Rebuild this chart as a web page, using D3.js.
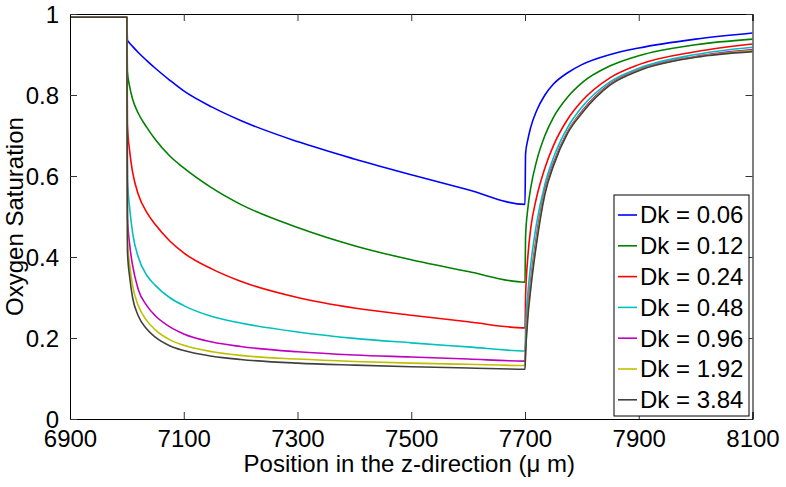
<!DOCTYPE html>
<html>
<head>
<meta charset="utf-8">
<script src="https://cdn.jsdelivr.net/npm/d3@7"></script>
<style>
  html, body { margin: 0; padding: 0; background: #fff; }
  svg { display: block; font-family: "Liberation Sans", Arial, Helvetica, sans-serif; }
</style>
</head>
<body>
<svg id="chart" width="786" height="487"></svg>
<script>
// ---- data ----
const positions = [6900, 7000, 7001, 7005, 7010, 7020, 7035, 7050, 7075, 7100, 7150, 7200, 7300, 7400, 7500, 7600, 7700,
                   7701, 7705, 7710, 7720, 7735, 7750, 7775, 7800, 7850, 7900, 8000, 8100];
const seriesLabels = ["Dk = 0.06", "Dk = 0.12", "Dk = 0.24", "Dk = 0.48", "Dk = 0.96", "Dk = 1.92", "Dk = 3.84"];
const seriesColors = ["#0000ff", "#008000", "#ff0000", "#00bfbf", "#bf00bf", "#bfbf00", "#404040"];
const dk006 = [0.992, 0.992, 0.935, 0.928, 0.92, 0.905, 0.885, 0.866, 0.837, 0.81, 0.77, 0.737, 0.685, 0.642, 0.603, 0.566, 0.53,
               0.655, 0.69, 0.72, 0.76, 0.80, 0.827, 0.855, 0.875, 0.90, 0.916, 0.938, 0.953];
const dk012 = [0.992, 0.992, 0.857, 0.82, 0.79, 0.755, 0.72, 0.69, 0.65, 0.62, 0.57, 0.53, 0.473, 0.428, 0.393, 0.364, 0.338,
               0.45, 0.52, 0.57, 0.635, 0.70, 0.745, 0.795, 0.83, 0.872, 0.897, 0.924, 0.938];
const dk024 = [0.992, 0.992, 0.728, 0.66, 0.61, 0.555, 0.51, 0.48, 0.44, 0.41, 0.37, 0.34, 0.30, 0.274, 0.256, 0.24, 0.225,
               0.30, 0.40, 0.47, 0.545, 0.62, 0.675, 0.74, 0.785, 0.843, 0.875, 0.907, 0.926];
const dk048 = [0.992, 0.992, 0.595, 0.52, 0.46, 0.40, 0.355, 0.33, 0.30, 0.28, 0.253, 0.237, 0.215, 0.199, 0.188, 0.178, 0.168,
               0.22, 0.31, 0.38, 0.48, 0.58, 0.645, 0.72, 0.77, 0.833, 0.866, 0.90, 0.918];
const dk096 = [0.992, 0.992, 0.50, 0.43, 0.38, 0.32, 0.28, 0.255, 0.228, 0.21, 0.19, 0.179, 0.166, 0.158, 0.153, 0.148, 0.143,
               0.18, 0.27, 0.34, 0.45, 0.565, 0.632, 0.71, 0.76, 0.828, 0.862, 0.895, 0.912];
const dk192 = [0.992, 0.992, 0.444, 0.38, 0.33, 0.28, 0.243, 0.22, 0.196, 0.182, 0.166, 0.157, 0.148, 0.142, 0.138, 0.135, 0.132,
               0.17, 0.26, 0.33, 0.44, 0.56, 0.628, 0.708, 0.757, 0.826, 0.861, 0.894, 0.91];
const dk384 = [0.992, 0.992, 0.413, 0.35, 0.30, 0.255, 0.222, 0.202, 0.181, 0.169, 0.155, 0.147, 0.138, 0.133, 0.129, 0.126, 0.123,
               0.16, 0.25, 0.32, 0.43, 0.555, 0.625, 0.706, 0.755, 0.825, 0.86, 0.893, 0.907];
const seriesValues = [dk006, dk012, dk024, dk048, dk096, dk192, dk384];
const xTicks = [6900, 7100, 7300, 7500, 7700, 7900, 8100];
const yTicks = [0, 0.2, 0.4, 0.6, 0.8, 1];
const xTitle = "Position in the z-direction (\u03bc m)";
const yTitle = "Oxygen Saturation";

// ---- layout ----
const svg = d3.select("#chart");
const L = 70, R = 752.5, T = 14, B = 419;
const x = d3.scaleLinear().domain([6900, 8100]).range([L, R]);
const y = d3.scaleLinear().domain([0, 1]).range([B, T]);
const fs = 24;

svg.append("defs").append("clipPath").attr("id", "clip")
  .append("rect").attr("x", L).attr("y", T).attr("width", R - L).attr("height", B - T);

// lines
const line = d3.line().x(d => x(d[0])).y(d => y(d[1])).curve(d3.curveMonotoneX);
const g = svg.append("g").attr("clip-path", "url(#clip)");
seriesValues.forEach((vals, i) => {
  const pts = positions.map((p, j) => [p, vals[j]]);
  g.append("path").datum(pts).attr("d", line)
    .attr("fill", "none").attr("stroke", seriesColors[i]).attr("stroke-width", 1.6)
    .attr("stroke-linejoin", "round");
});

// axes (ticks inside, mirrored)
const tickLen = 7;
const axB = svg.append("g").attr("transform", `translate(0,${B})`)
  .call(d3.axisBottom(x).tickValues(xTicks).tickSize(-tickLen).tickPadding(tickLen + 4).tickFormat(d3.format("d")));
const axT = svg.append("g").attr("transform", `translate(0,${T})`)
  .call(d3.axisTop(x).tickValues(xTicks).tickSize(-tickLen).tickFormat(""));
const axL = svg.append("g").attr("transform", `translate(${L},0)`)
  .call(d3.axisLeft(y).tickValues(yTicks).tickSize(-tickLen).tickPadding(tickLen + 4).tickFormat(d => d3.format("")(d)));
const axR = svg.append("g").attr("transform", `translate(${R},0)`)
  .call(d3.axisRight(y).tickValues(yTicks).tickSize(-tickLen).tickFormat(""));
[axB, axT, axL, axR].forEach(a => {
  a.select(".domain").attr("stroke", "#000").attr("stroke-width", 1);
  a.selectAll(".tick line").attr("stroke", "#333").attr("stroke-width", 1);
  a.selectAll("text").attr("font-size", fs).attr("fill", "#000")
    .attr("font-family", "'Liberation Sans', Arial, Helvetica, sans-serif");
});
axB.selectAll(".tick text").attr("dy", "0.72em");
axL.selectAll(".tick text").attr("dy", "0.35em");

// axis titles
svg.append("text").attr("x", (L + R) / 2 - 2).attr("y", 472).attr("text-anchor", "middle")
  .attr("font-size", fs).text(xTitle);
svg.append("text").attr("transform", `translate(23,${(T + B) / 2}) rotate(-90)`)
  .attr("text-anchor", "middle").attr("font-size", fs).text(yTitle);

// legend
const lg = svg.append("g");
const lgX = 614, lgY = 195, lgW = 135, lgH = 221, rowH = 30.8;
lg.append("rect").attr("x", lgX).attr("y", lgY).attr("width", lgW).attr("height", lgH)
  .attr("fill", "#fff").attr("stroke", "#000").attr("stroke-width", 1);
seriesLabels.forEach((lab, i) => {
  const cy = lgY + 20 + i * rowH;
  lg.append("line").attr("x1", lgX + 4).attr("x2", lgX + 23).attr("y1", cy).attr("y2", cy)
    .attr("stroke", seriesColors[i]).attr("stroke-width", 1.6);
  lg.append("text").attr("x", lgX + 26).attr("y", cy).attr("dy", "0.35em")
    .attr("font-size", fs).text(lab);
});
</script>
</body>
</html>
